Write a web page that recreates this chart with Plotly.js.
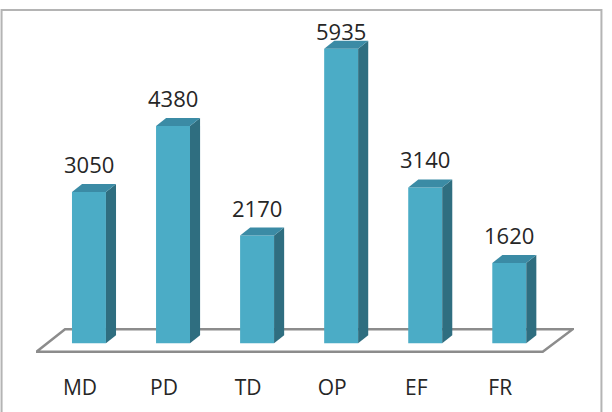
<!DOCTYPE html>
<html>
<head>
<meta charset="utf-8">
<script src="https://cdn.plot.ly/plotly-3.0.1.min.js"></script>
<style>
html,body{margin:0;padding:0;background:#fff;}
#chart{width:612px;height:412px;}
</style>
</head>
<body>
<div id="chart"></div>
<script>
var categories = ["MD", "PD", "TD", "OP", "EF", "FR"];
var values = [3050, 4380, 2170, 5935, 3140, 1620];

var xs = categories.map(function(_, i){ return i; });
var yMin = -600, yMax = 6557;
var plotH = 355;
var pxPerUnit = plotH / (yMax - yMin);
var barW = 0.404;              // front face width (x units)
var dx = 0.12;                 // depth offset in x units
var dy = 8 / pxPerUnit;        // depth offset in y units

var frontColor = "#4bacc6", sideColor = "#2f6e80", topColor = "#3b8ba5";

var shapes = [];
// outer frame
shapes.push({type:"rect", xref:"paper", yref:"paper", x0:-0.064, x1:1.051, y0:-0.2, y1:1.0225,
  line:{color:"#b4b4b4", width:2}, fillcolor:"rgba(0,0,0,0)", layer:"below"});
// floor
var fl = -0.624, fr = 5.398, bl = -0.285, br = 5.755, fy = -8.5 / pxPerUnit, by = 14 / pxPerUnit;
shapes.push({type:"path", xref:"x", yref:"y", layer:"below",
  path:"M"+fl+","+fy+" L"+fr+","+fy+" L"+br+","+by+" L"+bl+","+by+" Z",
  fillcolor:"#ffffff", line:{color:"#8c8c8c", width:2.5}});
// 3D side and top faces
xs.forEach(function(x, i){
  var v = values[i], l = x - barW/2, r = x + barW/2;
  shapes.push({type:"path", xref:"x", yref:"y", layer:"above", line:{width:0}, fillcolor:sideColor,
    path:"M"+r+",0 L"+(r+dx)+","+dy+" L"+(r+dx)+","+(v+dy)+" L"+r+","+v+" Z"});
  shapes.push({type:"path", xref:"x", yref:"y", layer:"above", line:{width:0}, fillcolor:topColor,
    path:"M"+l+","+v+" L"+(l+dx)+","+(v+dy)+" L"+(r+dx)+","+(v+dy)+" L"+r+","+v+" Z"});
});

var annotations = xs.map(function(x, i){
  var ly = Math.min(values[i] + 28 / pxPerUnit, yMax - 13 / pxPerUnit);
  return {x:x, y:ly, xref:"x", yref:"y", text:String(values[i]), showarrow:false,
    yanchor:"middle", font:{family:"Open Sans", size:22, color:"#262626"}};
});

var trace = {type:"bar", x:xs, y:values, width:barW, marker:{color:frontColor, line:{width:0}},
  hoverinfo:"skip"};

var layout = {
  width:612, height:412,
  margin:{l:36, r:38, t:18, b:39},
  paper_bgcolor:"#ffffff", plot_bgcolor:"rgba(0,0,0,0)",
  showlegend:false,
  xaxis:{range:[-0.63, 5.77], tickvals:xs, ticktext:categories, showgrid:false, zeroline:false,
    showline:false, ticks:"", ticklabelshift:-9, ticklabelstandoff:0,
    tickfont:{family:"Open Sans", size:21, color:"#262626"}},
  yaxis:{range:[yMin, yMax], showgrid:false, zeroline:false, showline:false, showticklabels:false, ticks:""},
  shapes:shapes,
  annotations:annotations
};

Plotly.newPlot("chart", [trace], layout, {staticPlot:true, displayModeBar:false});
</script>
</body>
</html>
